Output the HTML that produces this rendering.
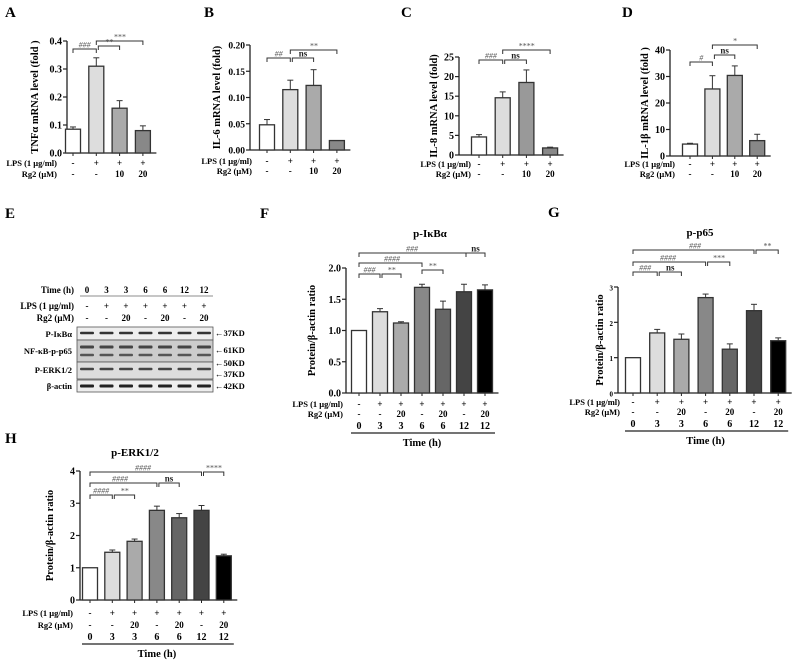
<!DOCTYPE html>
<html><head><meta charset="utf-8"><style>
html,body{margin:0;padding:0;background:#fff;}
svg{display:block;font-family:"Liberation Serif",serif;font-weight:bold;}
</style></head><body>
<svg id="fig" width="798" height="662" viewBox="0 0 798 662" xmlns="http://www.w3.org/2000/svg">
<g id="blot">
  <text x="5" y="218" font-size="15">E</text>
  <text x="74" y="293" font-size="9" text-anchor="end">Time (h)</text>
  <line x1="80" y1="296" x2="213" y2="296" stroke="#666" stroke-width="0.8"/>
  <text x="74" y="309" font-size="9" text-anchor="end">LPS (1 μg/ml)</text>
  <text x="74" y="321" font-size="9" text-anchor="end">Rg2 (μM)</text>
  <text x="72" y="337" font-size="8.5" text-anchor="end">P-IκBα</text>
  <text x="72" y="354" font-size="8.5" text-anchor="end">NF-κB-p-p65</text>
  <text x="72" y="373" font-size="8.5" text-anchor="end">P-ERK1/2</text>
  <text x="72" y="389" font-size="8.5" text-anchor="end">β-actin</text>
  <rect x="77" y="327" width="136" height="13" fill="#eee" stroke="#555" stroke-width="0.8"/>
  <rect x="77" y="340" width="136" height="22" fill="#ccc" stroke="#555" stroke-width="0.8"/>
  <rect x="77" y="362" width="136" height="17" fill="#ddd" stroke="#555" stroke-width="0.8"/>
  <rect x="77" y="380" width="136" height="12" fill="#eee" stroke="#555" stroke-width="0.8"/>
  <text x="215" y="336" font-size="8.5">←37KD</text>
  <text x="215" y="353" font-size="8.5">←61KD</text>
  <text x="215" y="366" font-size="8.5">←50KD</text>
  <text x="215" y="377" font-size="8.5">←37KD</text>
  <text x="215" y="389" font-size="8.5">←42KD</text>
</g>
</svg>
<script>
// ---------- data ----------
const A_values=[0.085,0.31,0.16,0.08];
const A_errors=[0.008,0.03,0.027,0.017];
const A_ticks=['0.0','0.1','0.2','0.3','0.4'];
const B_values=[0.048,0.115,0.123,0.018];
const B_errors=[0.01,0.018,0.03,0];
const B_ticks=['0.00','0.05','0.10','0.15','0.20'];
const C_values=[4.6,14.6,18.5,1.8];
const C_errors=[0.6,1.5,3.2,0.2];
const C_ticks=['0','5','10','15','20','25'];
const D_values=[4.5,25.3,30.4,5.8];
const D_errors=[0.3,5,3.6,2.4];
const D_ticks=['0','10','20','30','40'];
const mrna_lps=['-','+','+','+'];
const mrna_rg2=['-','-','10','20'];
const F_values=[1.0,1.3,1.12,1.69,1.34,1.62,1.65];
const F_errors=[0,0.05,0.02,0.05,0.13,0.12,0.08];
const F_ticks=['0.0','0.5','1.0','1.5','2.0'];
const G_values=[1.0,1.7,1.52,2.7,1.24,2.33,1.48];
const G_errors=[0,0.1,0.15,0.1,0.15,0.18,0.08];
const G_ticks=['0','1','2','3'];
const H_values=[1.0,1.48,1.82,2.78,2.55,2.78,1.37];
const H_errors=[0,0.07,0.07,0.13,0.13,0.15,0.05];
const H_ticks=['0','1','2','3','4'];
const prot_lps=['-','+','+','+','+','+','+'];
const prot_rg2=['-','-','20','-','20','-','20'];
const prot_time=['0','3','3','6','6','12','12'];
const blot_lanes=['0','3','3','6','6','12','12'];

const NS='http://www.w3.org/2000/svg';
const svg=document.getElementById('fig');
function mk(tag,attrs,parent,txt){
  const e=document.createElementNS(NS,tag);
  for(const k in attrs)e.setAttribute(k,attrs[k]);
  if(txt!==undefined)e.textContent=txt;
  (parent||svg).appendChild(e);return e;
}
const blot=document.getElementById('blot');
blot_lanes.forEach((t,i)=>{
  const x=87+i*19.5;
  const a=mk('text',{x:x,y:293,'font-size':9,'text-anchor':'middle'},blot,t);
  
  
  const b=mk('text',{x:x,y:309,'font-size':9,'text-anchor':'middle'},blot,prot_lps[i]);
  
  
  const c=mk('text',{x:x,y:321,'font-size':9,'text-anchor':'middle'},blot,prot_rg2[i]);
  
  
  [[333,2.5,'#333'],[347,3,'#444'],[355,2.5,'#555'],[369,2.5,'#444'],[386,3,'#222']].forEach(r=>{
    const band=mk('rect',{x:x-7,y:r[0]-r[1]/2,width:14,height:r[1],fill:r[2],rx:1},blot);
    
    
  });
});

const col4=['#fff','#ddd','#aaa','#888'];
const col7=['#fff','#ddd','#aaa','#888','#666','#444','#000'];

function chart(o){
  const g=mk('g',{});
  
  
  const tv=o.ticks.map(parseFloat);
  const vmax=tv[tv.length-1];
  const Y=v=>o.y0-(v/vmax)*(o.y0-o.yTop);
  const X=i=>o.c0+i*o.step;
  const n=o.values.length;
  const lt=mk('text',{x:o.letter[0],y:o.letter[1],'font-size':15},g,o.letterText);
  
  
  if(o.title){
    const t=mk('text',{x:o.title[0],y:o.title[1],'font-size':11,'text-anchor':'middle'},g,o.titleText);
    
    
  }
  const ya=mk('line',{x1:o.axX,y1:o.y0,x2:o.axX,y2:o.yTop,stroke:'#222','stroke-width':1.3},g);
  
  
  tv.forEach((v,k)=>{
    mk('line',{x1:o.axX-4,y1:Y(v),x2:o.axX,y2:Y(v),stroke:'#222','stroke-width':1.2},g);
    const tl=mk('text',{x:o.axX-5,y:Y(v)+3.5,'font-size':o.tickFs||10,'text-anchor':'end'},g,o.ticks[k]);
    
    
  });
  const yl=mk('text',{x:0,y:0,'font-size':10.5,'text-anchor':'middle',transform:`translate(${o.ylx},${(o.y0+o.yTop)/2}) rotate(-90)`},g,o.ylabel);
  
  
  const xa=mk('line',{x1:o.axX,y1:o.y0,x2:X(n-1)+o.bw/2+6,y2:o.y0,stroke:'#222','stroke-width':1.3},g);
  
  
  o.values.forEach((v,i)=>{
    const x=X(i);
    mk('line',{x1:x,y1:o.y0,x2:x,y2:o.y0+3,stroke:'#222','stroke-width':1},g);
    const top=Y(v+o.errors[i]);
    if(o.errors[i]>0){
      mk('line',{x1:x,y1:Y(v),x2:x,y2:top,stroke:'#333','stroke-width':1},g);
      mk('line',{x1:x-3,y1:top,x2:x+3,y2:top,stroke:'#333','stroke-width':1},g);
    }
    const b=mk('rect',{x:x-o.bw/2,y:Y(v),width:o.bw,height:o.y0-Y(v),fill:o.colors[i],stroke:'#333','stroke-width':1.3},g);
    
    
    const l1=mk('text',{x:x,y:o.lpsY,'font-size':9,'text-anchor':'middle'},g,o.lps[i]);
    
    
    const l2=mk('text',{x:x,y:o.rg2Y,'font-size':9,'text-anchor':'middle'},g,o.rg2[i]);
    
    
    if(o.time){
      const l3=mk('text',{x:x,y:o.rg2Y+12,'font-size':10,'text-anchor':'middle'},g,o.time[i]);
      
      
    }
  });
  const r1=mk('text',{x:o.labelX,y:o.lpsY,'font-size':8.5,'text-anchor':'end'},g,'LPS (1 μg/ml)');
  
  
  const r2=mk('text',{x:o.labelX,y:o.rg2Y,'font-size':8.5,'text-anchor':'end'},g,'Rg2 (μM)');
  
  
  if(o.time){
    mk('line',{x1:X(0)-8,y1:o.rg2Y+16,x2:X(n-1)+10,y2:o.rg2Y+16,stroke:'#222','stroke-width':1.2},g);
    const tt=mk('text',{x:(X(0)+X(n-1))/2,y:o.rg2Y+29,'font-size':10.5,'text-anchor':'middle'},g,'Time (h)');
    
    
  }
  o.brackets.forEach(bk=>{
    const x1=X(bk[0])+(bk[4]||0),x2=X(bk[1]),y=bk[2];
    const p=mk('path',{d:`M${x1},${y+4}V${y}H${x2}V${y+4}`,fill:'none',stroke:'#333','stroke-width':1},g);
    
    
    const t=mk('text',{x:bk[3]==='ns'?(x1+x2)/2:(bk[5]||(x1+x2)/2),y:y-1.5,'font-size':bk[3]==='ns'?9:8,'font-style':bk[3]==='ns'?'normal':'italic',fill:bk[3]==='ns'?'#222':'#555','font-weight':bk[3]==='ns'?'bold':'normal','text-anchor':'middle'},g,bk[3]);
    
    
  });
}

chart({name:'chart-a-tnfa',letterText:'A',letter:[5,17],axX:67,y0:153,yTop:41,c0:73,step:23.3,bw:15,values:A_values,errors:A_errors,ticks:A_ticks,colors:col4,lps:mrna_lps,rg2:mrna_rg2,lpsY:166,rg2Y:177,labelX:57,ylx:38,ylabel:'TNFα mRNA level (fold )',
  brackets:[[0,1,49,'###'],[1,2,46,'**',2],[1,3,41,'***']]});
chart({name:'chart-b-il6',letterText:'B',letter:[204,17],axX:250,y0:150,yTop:45,c0:267,step:23.3,bw:15,tickFs:9.5,values:B_values,errors:B_errors,ticks:B_ticks,colors:col4,lps:mrna_lps,rg2:mrna_rg2,lpsY:164,rg2Y:174,labelX:252,ylx:220,ylabel:'IL-6 mRNA level (fold)',
  brackets:[[0,1,58,'##'],[1,2,58,'ns',2],[1,3,50,'**']]});
chart({name:'chart-c-il8',letterText:'C',letter:[401,17],axX:459,y0:155,yTop:57,c0:479,step:23.7,bw:15,values:C_values,errors:C_errors,ticks:C_ticks,colors:['#fff','#ddd','#999','#888'],lps:mrna_lps,rg2:mrna_rg2,lpsY:167,rg2Y:177,labelX:471,ylx:437,ylabel:'IL-8 mRNA level (fold)',
  brackets:[[0,1,60,'###'],[1,2,60,'ns',2],[1,3,50,'****']]});
chart({name:'chart-d-il1b',letterText:'D',letter:[622,17],axX:670,y0:156,yTop:50,c0:690,step:22.4,bw:15,values:D_values,errors:D_errors,ticks:D_ticks,colors:col4,lps:mrna_lps,rg2:mrna_rg2,lpsY:167,rg2Y:177,labelX:675,ylx:648,ylabel:'IL-1β mRNA level (fold )',
  brackets:[[0,1,62,'#'],[1,2,55,'ns',2],[1,3,45,'*']]});
chart({name:'chart-f-pikba',letterText:'F',letter:[260,218],title:[430,237],titleText:'p-IκBα',axX:346,y0:393,yTop:268,c0:359,step:21,bw:15,values:F_values,errors:F_errors,ticks:F_ticks,colors:col7,lps:prot_lps,rg2:prot_rg2,time:prot_time,lpsY:407,rg2Y:417,labelX:343,ylx:315,ylabel:'Protein/β-actin ratio',
  brackets:[[0,6,253,'###',0,412],[5,6,253,'ns',2],[0,3,263,'####',0,392],[0,1,274,'###'],[1,2,274,'**',2],[3,4,270,'**']]});
chart({name:'chart-g-pp65',letterText:'G',letter:[548,217],title:[700,236],titleText:'p-p65',axX:618,y0:393,yTop:287,c0:633,step:24.2,bw:15,tickFs:7,values:G_values,errors:G_errors,ticks:G_ticks,colors:col7,lps:prot_lps,rg2:prot_rg2,time:prot_time,lpsY:405,rg2Y:415,labelX:620,ylx:603,ylabel:'Protein/β-actin ratio',
  brackets:[[0,5,250,'###',0,695],[5,6,250,'**',2],[0,3,262,'####',0,668],[3,4,262,'***',2],[0,1,272,'###'],[1,2,272,'ns',2]]});
chart({name:'chart-h-perk',letterText:'H',letter:[5,443],title:[135,456],titleText:'p-ERK1/2',axX:80,y0:600,yTop:471,c0:90,step:22.3,bw:15,values:H_values,errors:H_errors,ticks:H_ticks,colors:col7,lps:prot_lps,rg2:prot_rg2,time:prot_time,lpsY:616,rg2Y:628,labelX:73,ylx:53,ylabel:'Protein/β-actin ratio',
  brackets:[[0,5,472,'####',0,143],[5,6,472,'****',2],[0,3,483,'####',0,120],[3,4,483,'ns',2],[0,1,495,'####'],[1,2,495,'**',2]]});
</script>
</body></html>
